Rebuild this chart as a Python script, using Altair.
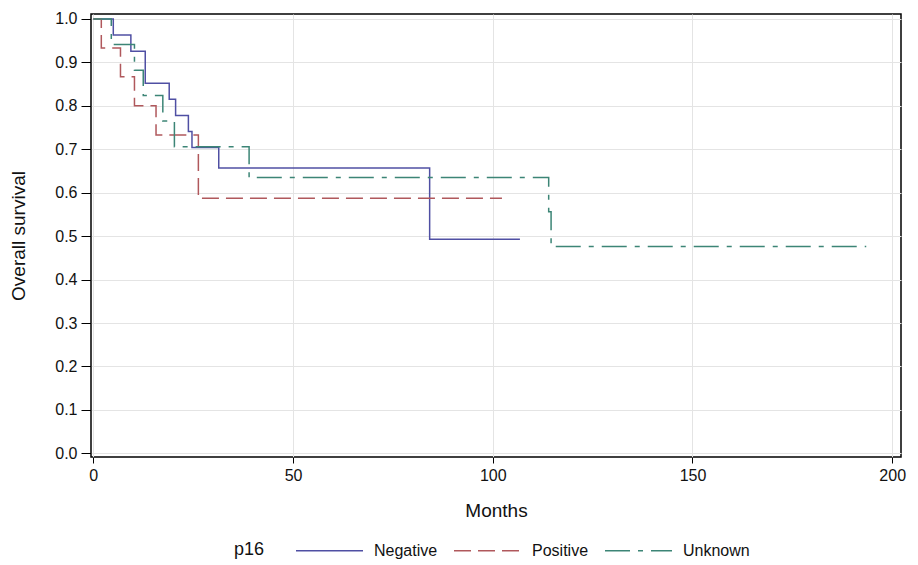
import altair as alt
import pandas as pd

groups = ["Negative", "Positive", "Unknown"]

neg_t = [0, 5.0, 9.4, 13.0, 19.0, 20.6, 23.8, 24.7, 31.4, 84.2, 106.8]
neg_s = [1.0, 0.963, 0.926, 0.852, 0.815, 0.778, 0.741, 0.704, 0.657, 0.493, 0.493]

pos_t = [0, 2.0, 6.8, 10.3, 15.7, 26.3, 102.3]
pos_s = [1.0, 0.933, 0.867, 0.800, 0.733, 0.587, 0.587]

unk_t = [0, 4.5, 10.3, 12.5, 17.4, 20.3, 39.0, 114.0, 114.6, 193.5]
unk_s = [1.0, 0.941, 0.882, 0.824, 0.765, 0.706, 0.635, 0.556, 0.476, 0.476]

x_ticks = [0, 50, 100, 150, 200]
y_ticks = [0.0, 0.1, 0.2, 0.3, 0.4, 0.5, 0.6, 0.7, 0.8, 0.9, 1.0]

colors = ["#4F4FA3", "#B0585C", "#3C8576"]
dashes = [[1, 0], [17, 7], [25, 8, 5, 8]]

rows = []
for g, ts, ss in zip(groups, [neg_t, pos_t, unk_t], [neg_s, pos_s, unk_s]):
    for i, (t, s) in enumerate(zip(ts, ss)):
        rows.append({"p16": g, "Months": t, "Survival": s, "order": i})
df = pd.DataFrame(rows)

FONT = "Liberation Sans"

legend_def = alt.Legend(
    title="p16",
    orient="none",
    direction="horizontal",
    legendX=143,
    legendY=502,
    titleOrient="left",
    titleAnchor="end",
    titleBaseline="bottom",
)

chart = (
    alt.Chart(df)
    .mark_line(interpolate="step-after", strokeWidth=1.5)
    .encode(
        x=alt.X(
            "Months:Q",
            scale=alt.Scale(domain=[-0.58, 202.2], nice=False, zero=False),
            axis=alt.Axis(
                values=x_ticks,
                title="Months",
                tickSize=6,
                labelPadding=4,
                titlePadding=18,
                format="d",
            ),
        ),
        y=alt.Y(
            "Survival:Q",
            scale=alt.Scale(domain=[-0.0085, 1.0115], nice=False, zero=False),
            axis=alt.Axis(
                values=y_ticks,
                title="Overall survival",
                format=".1f",
                tickSize=10,
                labelPadding=4,
                titlePadding=26,
            ),
        ),
        color=alt.Color(
            "p16:N",
            scale=alt.Scale(domain=groups, range=colors),
            legend=legend_def,
        ),
        strokeDash=alt.StrokeDash(
            "p16:N",
            scale=alt.Scale(domain=groups, range=dashes),
            legend=legend_def,
        ),
        order="order:Q",
    )
    .properties(
        width=810,
        height=443,
        autosize=alt.AutoSizeParams(type="none"),
        padding={"left": 91, "top": 14, "right": 17, "bottom": 108},
    )
    .configure_view(stroke="black", strokeWidth=1.5)
    .configure_axis(
        domain=False,
        grid=True,
        gridColor="#e4e4e4",
        gridWidth=1,
        tickColor="black",
        tickWidth=1,
        labelFont=FONT,
        labelFontSize=16,
        labelColor="#111111",
        titleFont=FONT,
        titleFontSize=19,
        titleFontWeight="normal",
        titleColor="#111111",
    )
    .configure_legend(
        labelFont=FONT,
        labelFontSize=16,
        labelColor="#111111",
        titleFont=FONT,
        titleFontSize=18,
        titleFontWeight="normal",
        titleColor="#111111",
        titlePadding=30,
        symbolType="stroke",
        symbolSize=4489,
        symbolStrokeWidth=1.5,
        labelOffset=10,
        columnPadding=13,
    )
)

chart.save("out.html", embed_options={"renderer": "svg", "actions": False})
